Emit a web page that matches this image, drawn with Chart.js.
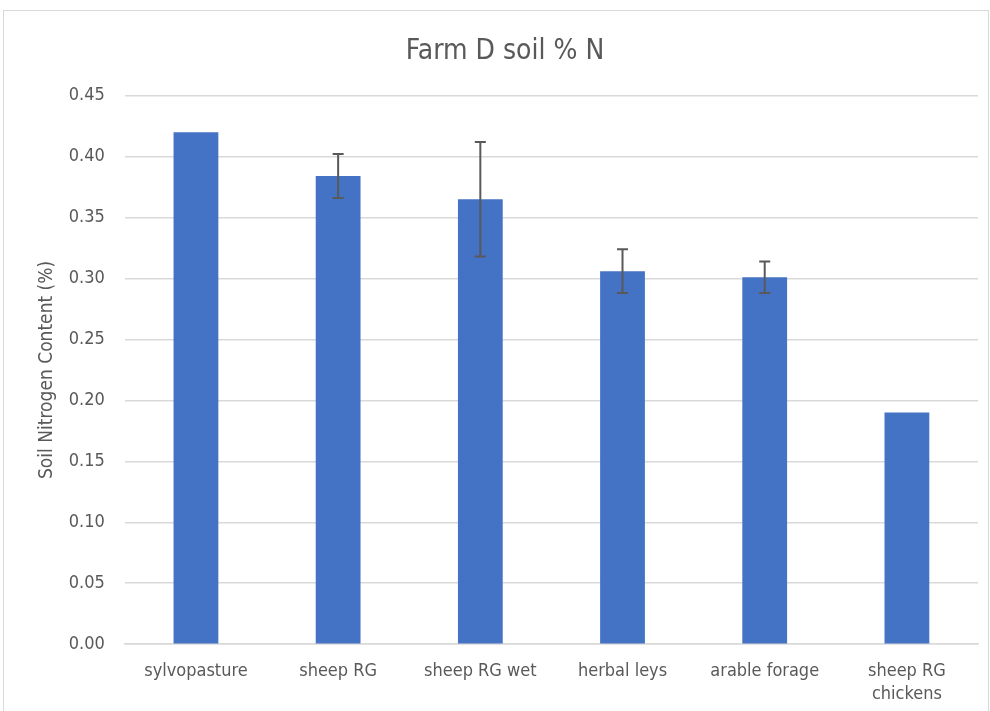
<!DOCTYPE html>
<html>
<head>
<meta charset="utf-8">
<script src="https://cdn.jsdelivr.net/npm/chart.js@4"></script>
<style>
  body { margin: 0; background: #fff; overflow: hidden; }
  #frame { position: absolute; left: 3px; top: 10px; width: 984px; height: 710px; border: 1px solid #d9d9d9; }
  #wrap { position: absolute; left: 0; top: 0; width: 984px; height: 712px; }
</style>
</head>
<body>
<div id="frame"><div id="wrap"><canvas id="myBarChart"></canvas></div></div>
<script>
const categories = ['sylvopasture', 'sheep RG', 'sheep RG wet', 'herbal leys', 'arable forage', ['sheep RG', 'chickens']];
const nitrogen = [0.42, 0.384, 0.365, 0.306, 0.301, 0.19];
const errors = [0, 0.018, 0.047, 0.018, 0.013, 0];
const yTicks = [0, 0.05, 0.10, 0.15, 0.20, 0.25, 0.30, 0.35, 0.40, 0.45];

const fontFam = "'DejaVu Sans Condensed', 'Liberation Sans Narrow', sans-serif";

// error bars drawn on top of the bars
const errorBars = {
  id: 'errorBars',
  afterDatasetsDraw(chart) {
    const ctx = chart.ctx;
    const y = chart.scales.y;
    const meta = chart.getDatasetMeta(0);
    ctx.save();
    ctx.strokeStyle = '#595959';
    ctx.lineWidth = 2;
    meta.data.forEach((bar, i) => {
      if (!errors[i]) return;
      const top = y.getPixelForValue(nitrogen[i] + errors[i]);
      const bot = y.getPixelForValue(nitrogen[i] - errors[i]);
      ctx.beginPath();
      ctx.moveTo(bar.x, top); ctx.lineTo(bar.x, bot);
      ctx.moveTo(bar.x - 5.5, top); ctx.lineTo(bar.x + 5.5, top);
      ctx.moveTo(bar.x - 5.5, bot); ctx.lineTo(bar.x + 5.5, bot);
      ctx.stroke();
    });
    ctx.restore();
  }
};

document.addEventListener('DOMContentLoaded', function() {
  const ctx = document.getElementById('myBarChart').getContext('2d');
  new Chart(ctx, {
    type: 'bar',
    data: {
      labels: categories,
      datasets: [{
        label: 'Soil N',
        data: nitrogen,
        backgroundColor: '#4472c4',
        borderWidth: 0,
        barPercentage: 0.315,
        categoryPercentage: 1
      }]
    },
    options: {
      responsive: true,
      maintainAspectRatio: false,
      animation: false,
      layout: { padding: { left: 28, right: 10, top: 10, bottom: 10 } },
      plugins: {
        legend: { display: false },
        tooltip: { enabled: false },
        title: {
          display: true,
          text: 'Farm D soil % N',
          color: '#595959',
          font: { family: fontFam, size: 28, weight: 'normal' },
          padding: { top: 14, bottom: 27 }
        }
      },
      scales: {
        y: {
          min: 0,
          max: 0.45,
          afterBuildTicks: axis => { axis.ticks = yTicks.map(v => ({ value: v })); },
          ticks: {
            color: '#595959',
            font: { family: fontFam, size: 18 },
            padding: 20,
            callback: v => v.toFixed(2)
          },
          grid: { color: '#d9d9d9', lineWidth: 1.5, drawTicks: false },
          border: { display: false },
          title: {
            display: true,
            text: 'Soil Nitrogen Content (%)',
            color: '#595959',
            font: { family: fontFam, size: 19 },
            padding: { top: 4, bottom: -10 }
          }
        },
        x: {
          grid: { display: false },
          border: { display: true, color: '#d9d9d9', width: 1.5 },
          ticks: {
            color: '#595959',
            font: { family: fontFam, size: 18, lineHeight: 1.3 },
            padding: 7,
            maxRotation: 0
          }
        }
      }
    },
    plugins: [errorBars]
  });
});
</script>
</body>
</html>
